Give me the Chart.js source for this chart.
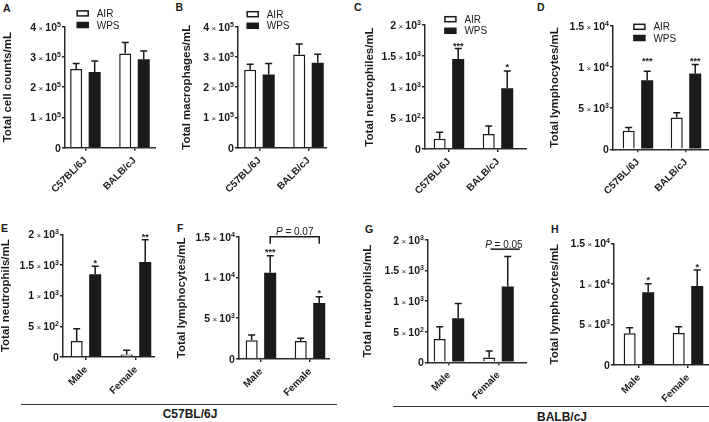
<!DOCTYPE html>
<html lang="en">
<head>
<meta charset="UTF-8" />
<title>BAL cell counts</title>
<script src="https://cdn.jsdelivr.net/npm/chart.js"></script>
<style>
  body { margin: 0; background: #fff; }
  #fig { position: relative; width: 709px; height: 422px; overflow: hidden;
         font-family: "Liberation Sans", Arial, sans-serif; color: #1a1a1a; }
  #fig canvas { position: absolute; }
  .letter { position: absolute; font-weight: bold; font-size: 10.5px; line-height: 1; }
  .group { position: absolute; font-weight: bold; font-size: 12px; line-height: 1; transform: translateX(-50%); white-space: nowrap; }
  .rule { position: absolute; height: 1.5px; background: #333; }
</style>
</head>
<body>
<div id="fig">
  <div class="letter" style="left:3px;top:2.9px">A</div>
  <div class="letter" style="left:175.5px;top:2.1px">B</div>
  <div class="letter" style="left:354px;top:1.9px">C</div>
  <div class="letter" style="left:537px;top:1.9px">D</div>
  <div class="letter" style="left:1px;top:222.9px">E</div>
  <div class="letter" style="left:177px;top:223.4px">F</div>
  <div class="letter" style="left:365px;top:223.9px">G</div>
  <div class="letter" style="left:551px;top:223.9px">H</div>
  <div class="rule" style="left:21px;top:403.8px;width:316px"></div>
  <div class="rule" style="left:393px;top:405.8px;width:316px"></div>
  <div class="group" style="left:190px;top:408px">C57BL/6J</div>
  <div class="group" style="left:562px;top:411px">BALB/cJ</div>
</div>
<script>
// categories
const strainLabels = ['C57BL/6J', 'BALB/cJ'];
const sexLabels = ['Male', 'Female'];
const seriesNames = ['AIR', 'WPS'];

// A - total cells
const cellsAir = [2.60e5, 3.11e5];
const cellsAirSem = [0.18e5, 0.37e5];
const cellsWps = [2.50e5, 2.92e5];
const cellsWpsSem = [0.37e5, 0.28e5];

// B - macrophages
const macroAir = [2.58e5, 3.08e5];
const macroAirSem = [0.18e5, 0.35e5];
const macroWps = [2.42e5, 2.81e5];
const macroWpsSem = [0.36e5, 0.28e5];

// C - neutrophils by strain
const neutroAir = [167, 240];
const neutroAirSem = [103, 130];
const neutroWps = [1450, 980];
const neutroWpsSem = [170, 280];
const neutroStars = ['***', '*'];
const neutroStarAt = [1700, 1355];

// D - lymphocytes by strain
const lymphoAir = [2250, 3870];
const lymphoAirSem = [410, 570];
const lymphoWps = [8390, 9190];
const lymphoWpsSem = [1090, 1090];
const lymphoStars = ['***', '***'];
const lymphoStarAt = [10950, 10950];

// E - C57BL/6J neutrophils by sex
const c57NeutroAir = [260, 40];
const c57NeutroAirSem = [200, 70];
const c57NeutroWps = [1350, 1550];
const c57NeutroWpsSem = [130, 360];
const c57NeutroStars = ['*', '**'];
const c57NeutroStarAt = [1560, 1990];

// F - C57BL/6J lymphocytes by sex
const c57LymphoAir = [2290, 2200];
const c57LymphoAirSem = [650, 330];
const c57LymphoWps = [10590, 6870];
const c57LymphoWpsSem = [2080, 770];
const c57LymphoStars = ['***', '*'];
const c57LymphoStarAt = [13370, 8340];

// G - BALB/cJ neutrophils by sex
const balbNeutroAir = [380, 80];
const balbNeutroAirSem = [200, 105];
const balbNeutroWps = [720, 1240];
const balbNeutroWpsSem = [240, 490];

// H - BALB/cJ lymphocytes by sex
const balbLymphoAir = [3900, 3940];
const balbLymphoAirSem = [700, 780];
const balbLymphoWps = [8960, 9740];
const balbLymphoWpsSem = [1040, 1960];
const balbLymphoStars = ['*', '*'];
const balbLymphoStarAt = [10760, 12330];

const INK = '#1a1a1a';
const AXIS = '#2a2a2a';
const FONT = '"Liberation Sans", Arial, sans-serif';
const TITLE_SIZE = 11.5;

Chart.defaults.font.family = FONT;
Chart.defaults.color = INK;

// "4 x 10^5" style tick label, drawn with a real superscript
function drawSci(ctx, v, xRight, yMid) {
  let parts;
  if (v === 0) {
    parts = [['0', 'bold 10.5px', 0]];
  } else {
    const e = Math.floor(Math.log10(v) + 1e-9);
    const m = +(v / Math.pow(10, e)).toFixed(2);
    parts = [[String(m), 'bold 10.5px', 0], [' \u00d7 ', '8px', 0], ['10', 'bold 10.5px', 0], [String(e), 'bold 7px', -4]];
  }
  let total = 0;
  parts.forEach(pt => { ctx.font = pt[1] + ' ' + FONT; pt.push(ctx.measureText(pt[0]).width); total += pt[3]; });
  let xx = xRight - total;
  const base = yMid + 3.8;
  ctx.textAlign = 'left';
  ctx.textBaseline = 'alphabetic';
  parts.forEach(pt => {
    ctx.font = pt[1] + ' ' + FONT;
    ctx.fillText(pt[0], xx, base + pt[2]);
    xx += pt[3];
  });
}

// page layout of each panel (pixels in the 709x422 figure)
const panels = [
  { labels: strainLabels, air: cellsAir, airSem: cellsAirSem, wps: cellsWps, wpsSem: cellsWpsSem,
    title: 'Total cell counts/mL', ymax: 4e5, step: 1e5, row: 0,
    axisX: 65, top: 26.7, bottom: 147.7, c0: 85.5, c1: 134.5, right: 156, titleX: 8,
    legend: { x: 77.3, airY: 13.4, wpsY: 25 } },
  { labels: strainLabels, air: macroAir, airSem: macroAirSem, wps: macroWps, wpsSem: macroWpsSem,
    title: 'Total macrophages/mL', ymax: 4e5, step: 1e5, row: 0,
    axisX: 238, top: 26.7, bottom: 147.7, c0: 259.5, c1: 308.5, right: 327, titleX: 187,
    legend: { x: 247.3, airY: 14.2, wpsY: 25.8 } },
  { labels: strainLabels, air: neutroAir, airSem: neutroAirSem, wps: neutroWps, wpsSem: neutroWpsSem,
    stars: neutroStars, starAt: neutroStarAt,
    title: 'Total neutrophiles/mL', ymax: 2000, step: 500, row: 0,
    axisX: 425, top: 25, bottom: 149, c0: 449, c1: 498, right: 527, titleX: 370,
    legend: { x: 445, airY: 19.2, wpsY: 30.8 } },
  { labels: strainLabels, air: lymphoAir, airSem: lymphoAirSem, wps: lymphoWps, wpsSem: lymphoWpsSem,
    stars: lymphoStars, starAt: lymphoStarAt,
    title: 'Total lymphocytes/mL', ymax: 15000, step: 5000, row: 0,
    axisX: 613, top: 25.7, bottom: 149.3, c0: 638, c1: 686, right: 709, titleX: 555,
    legend: { x: 634, airY: 26.8, wpsY: 38 } },
  { labels: sexLabels, air: c57NeutroAir, airSem: c57NeutroAirSem, wps: c57NeutroWps, wpsSem: c57NeutroWpsSem,
    stars: c57NeutroStars, starAt: c57NeutroStarAt,
    title: 'Total neutrophils/mL', ymax: 2000, step: 500, row: 1,
    axisX: 63, top: 234.3, bottom: 357, c0: 86, c1: 136, right: 155, titleX: 6 },
  { labels: sexLabels, air: c57LymphoAir, airSem: c57LymphoAirSem, wps: c57LymphoWps, wpsSem: c57LymphoWpsSem,
    stars: c57LymphoStars, starAt: c57LymphoStarAt,
    bracket: { level: 15000, text: '0.07' },
    title: 'Total lymphocytes/mL', ymax: 15000, step: 5000, row: 1,
    axisX: 239, top: 236.7, bottom: 359, c0: 261, c1: 310, right: 330, titleX: 182 },
  { labels: sexLabels, air: balbNeutroAir, airSem: balbNeutroAirSem, wps: balbNeutroWps, wpsSem: balbNeutroWpsSem,
    pline: { from: 0.84, to: 1.43, level: 1850, textX: 1.11, text: '0.05' },
    title: 'Total neutrophils/mL', ymax: 2000, step: 500, row: 1,
    axisX: 428, top: 240, bottom: 362.3, c0: 449, c1: 498.5, right: 527, titleX: 368 },
  { labels: sexLabels, air: balbLymphoAir, airSem: balbLymphoAirSem, wps: balbLymphoWps, wpsSem: balbLymphoWpsSem,
    stars: balbLymphoStars, starAt: balbLymphoStarAt,
    title: 'Total lymphocytes/mL', ymax: 15000, step: 5000, row: 1,
    axisX: 614, top: 243.3, bottom: 365, c0: 639, c1: 688, right: 709, titleX: 555 }
];

const panelOf = new Map();

function drawP(ctx, cx, cy, value) {
  ctx.textBaseline = 'alphabetic';
  ctx.textAlign = 'left';
  ctx.font = 'italic 10px ' + FONT;
  const wP = ctx.measureText('P').width;
  ctx.font = '10px ' + FONT;
  const rest = ' = ' + value;
  const wR = ctx.measureText(rest).width;
  const x0 = cx - (wP + wR) / 2;
  const base = cy + 3.6;
  ctx.font = 'italic 10px ' + FONT;
  ctx.fillText('P', x0, base);
  ctx.font = '10px ' + FONT;
  ctx.fillText(rest, x0 + wP, base);
}

const decor = {
  id: 'decor',
  afterDatasetsDraw(chart) {
    const p = panelOf.get(chart.canvas);
    const { ctx } = chart;
    const x = chart.scales.x, y = chart.scales.y;
    ctx.save();
    ctx.strokeStyle = INK;
    ctx.fillStyle = INK;
    ctx.lineWidth = 1.5;

    // y tick labels from the scale's own ticks
    y.ticks.forEach(t => drawSci(ctx, t.value, y.right - 4, y.getPixelForValue(t.value)));

    // error bars (upper half only)
    chart.data.datasets.forEach((ds, di) => {
      chart.getDatasetMeta(di).data.forEach((bar, i) => {
        const yTop = y.getPixelForValue(ds.data[i].y + ds.sem[i]);
        ctx.beginPath();
        ctx.moveTo(bar.x, bar.y);
        ctx.lineTo(bar.x, yTop);
        ctx.moveTo(bar.x - 3.5, yTop);
        ctx.lineTo(bar.x + 3.5, yTop);
        ctx.stroke();
      });
    });

    const wpsBars = chart.getDatasetMeta(1).data;

    if (p.stars) {
      ctx.font = 'bold 9px ' + FONT;
      ctx.textAlign = 'center';
      ctx.textBaseline = 'alphabetic';
      wpsBars.forEach((bar, i) => {
        if (p.stars[i]) ctx.fillText(p.stars[i], bar.x, y.getPixelForValue(p.starAt[i]) + 5);
      });
    }

    if (p.legend) {
      const bx = p.legend.x - p.left;
      [[p.legend.airY, '#fff'], [p.legend.wpsY, INK]].forEach(([py, fill], di) => {
        const cy = py - p.canvasTop;
        ctx.fillStyle = fill;
        ctx.fillRect(bx, cy - 2.5, 11, 5);
        ctx.strokeRect(bx, cy - 2.5, 11, 5);
        ctx.fillStyle = INK;
        ctx.font = '10px ' + FONT;
        ctx.textAlign = 'left';
        ctx.textBaseline = 'alphabetic';
        ctx.fillText(chart.data.datasets[di].label, bx + 19.5, cy + 3.6);
      });
    }

    if (p.bracket) {
      const by = y.getPixelForValue(p.bracket.level);
      const [b0, b1] = wpsBars;
      ctx.beginPath();
      ctx.moveTo(b0.x, by + 7);
      ctx.lineTo(b0.x, by);
      ctx.lineTo(b1.x, by);
      ctx.lineTo(b1.x, by + 7);
      ctx.stroke();
      drawP(ctx, (b0.x + b1.x) / 2, by - 5, p.bracket.text);
    }

    if (p.pline) {
      const ly = y.getPixelForValue(p.pline.level);
      ctx.beginPath();
      ctx.moveTo(x.getPixelForValue(p.pline.from), ly);
      ctx.lineTo(x.getPixelForValue(p.pline.to), ly);
      ctx.stroke();
      drawP(ctx, x.getPixelForValue(p.pline.textX), ly - 4.5, p.pline.text);
    }
    ctx.restore();
  }
};

const fig = document.getElementById('fig');

panels.forEach(p => {
  p.left = p.titleX - TITLE_SIZE * 0.6;
  p.canvasTop = p.row === 0 ? 0 : 210;
  const width = Math.round(p.right - p.left);
  const height = p.row === 0 ? 205 : 212;
  const spacing = p.c1 - p.c0;

  const canvas = document.createElement('canvas');
  canvas.width = width;
  canvas.height = height;
  canvas.style.left = p.left + 'px';
  canvas.style.top = p.canvasTop + 'px';
  canvas.style.width = width + 'px';
  canvas.style.height = height + 'px';
  fig.appendChild(canvas);
  panelOf.set(canvas, p);

  new Chart(canvas, {
    type: 'bar',
    data: {
      datasets: [
        { label: seriesNames[0], data: p.air.map((v, i) => ({ x: i, y: v })), sem: p.airSem,
          backgroundColor: '#fff', borderColor: INK, borderWidth: 1.5 },
        { label: seriesNames[1], data: p.wps.map((v, i) => ({ x: i, y: v })), sem: p.wpsSem,
          backgroundColor: INK, borderColor: INK, borderWidth: 0 }
      ]
    },
    options: {
      responsive: false,
      animation: false,
      datasets: { bar: { categoryPercentage: 37 / spacing, barPercentage: 0.65 } },
      layout: { padding: { top: p.top - p.canvasTop, left: 0, right: 0, bottom: 0 } },
      plugins: { legend: { display: false }, tooltip: { enabled: false } },
      scales: {
        x: {
          type: 'linear',
          offset: false,
          z: 1,
          min: (p.axisX - p.c0) / spacing,
          max: (p.right - p.c0) / spacing,
          afterBuildTicks: s => { s.ticks = [{ value: 0 }, { value: 1 }]; },
          afterFit: s => { s.height = height - (p.bottom - p.canvasTop); },
          ticks: {
            callback: (v, i) => p.labels[i],
            autoSkip: false, minRotation: 45, maxRotation: 45, padding: 4,
            color: INK, font: { size: 10, weight: 'bold' }
          },
          grid: { offset: false, drawOnChartArea: false, drawTicks: true, tickLength: 3, color: AXIS, lineWidth: 1.5 },
          border: { color: AXIS, width: 1.5 }
        },
        y: {
          min: 0,
          max: p.ymax,
          z: 1,
          afterFit: s => { s.width = p.axisX - p.left; },
          ticks: { display: false, stepSize: p.step },
          title: { display: true, text: p.title, padding: 0, color: INK, font: { size: TITLE_SIZE, weight: 'bold' } },
          grid: { drawOnChartArea: false, drawTicks: true, tickLength: 3, color: AXIS, lineWidth: 1.5 },
          border: { color: AXIS, width: 1.5 }
        }
      }
    },
    plugins: [decor]
  });
});
</script>
</body>
</html>
